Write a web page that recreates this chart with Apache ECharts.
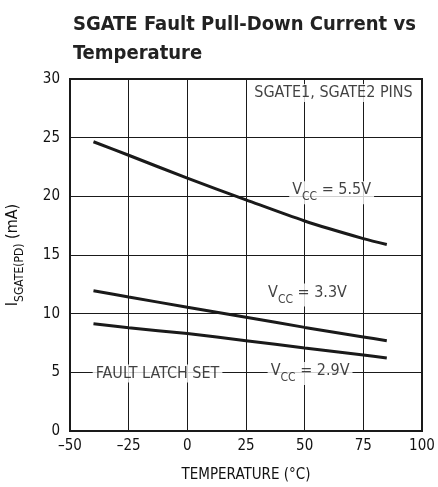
<!DOCTYPE html>
<html>
<head>
<meta charset="utf-8">
<script src="https://cdn.jsdelivr.net/npm/echarts@6/dist/echarts.min.js"></script>
<style>
  html, body { margin: 0; padding: 0; background: #fff; }
  #chart { width: 438px; height: 487px; }
</style>
</head>
<body>
<div id="chart"></div>
<script>
// temperatures (°C)
const temps = [-40, -25, 0, 25, 50, 75, 85];
// pull-down current (mA) for each supply
const vcc55 = [24.65, 23.5, 21.55, 19.7, 17.9, 16.4, 15.9];
const vcc33 = [11.95, 11.42, 10.55, 9.7, 8.83, 8.02, 7.7];
const vcc29 = [9.15, 8.8, 8.3, 7.7, 7.08, 6.48, 6.22];

const xTicks = [-50, -25, 0, 25, 50, 75, 100];
const yTicks = [0, 5, 10, 15, 20, 25, 30];

// annotation text and its anchor in data coordinates
const notes = [
  [62.3, 28.8, 'SGATE1, SGATE2 PINS'],
  [61.5, 20.3, '{v|V}{s|CC}{v| = 5.5V}'],
  [51.2, 11.6, '{v|V}{s|CC}{v| = 3.3V}'],
  [-12.7, 4.9, 'FAULT LATCH SET'],
  [52.3, 4.9, '{v|V}{s|CC}{v| = 2.9V}']
];

const font = '"DejaVu Sans Condensed", "Liberation Sans Narrow", "Liberation Sans", sans-serif';
const ink = '#111';

const chart = echarts.init(document.getElementById('chart'));

const curve = (name, vals) => ({
  name: name,
  type: 'line',
  data: temps.map((t, i) => [t, vals[i]]),
  smooth: 0.3,
  symbol: 'none',
  lineStyle: { color: '#1a1a1a', width: 3 },
  z: 3
});

const noteRich = {
  v: { fontSize: 16, fontFamily: font, color: ink, padding: [0, 0, 5, 0] },
  s: { fontSize: 12, fontFamily: font, color: ink, verticalAlign: 'bottom' }
};

chart.setOption({
  animation: false,
  backgroundColor: '#fff',
  title: {
    text: 'SGATE Fault Pull-Down Current vs\nTemperature',
    left: 68,
    top: 5,
    textStyle: {
      fontFamily: font,
      fontSize: 20,
      fontWeight: 'bold',
      lineHeight: 29,
      color: '#222'
    }
  },
  grid: {
    left: 70,
    right: 16,
    top: 79,
    bottom: 56,
    outerBoundsMode: 'none',
    containLabel: false,
    show: true,
    borderColor: '#1a1a1a',
    borderWidth: 2,
    backgroundColor: 'transparent'
  },
  xAxis: {
    type: 'value',
    min: xTicks[0],
    max: xTicks[xTicks.length - 1],
    interval: 25,
    name: 'TEMPERATURE (°C)',
    nameLocation: 'middle',
    nameGap: 37,
    nameTextStyle: { fontFamily: font, fontSize: 15, color: ink },
    axisLine: { show: false },
    axisTick: { show: false },
    axisLabel: {
      fontFamily: font,
      fontSize: 15,
      color: ink,
      margin: 8,
      formatter: v => (v < 0 ? '\u2013' + Math.abs(v) : String(v))
    },
    splitLine: { lineStyle: { color: '#1a1a1a', width: 1 } }
  },
  yAxis: {
    type: 'value',
    min: yTicks[0],
    max: yTicks[yTicks.length - 1],
    interval: 5,
    name: '{m|I}{s|SGATE(PD)}{m| (mA)}',
    nameLocation: 'middle',
    nameGap: 44,
    nameTextStyle: {
      rich: {
        m: { fontSize: 16, fontFamily: font, color: ink, padding: [0, 0, 5, 0] },
        s: { fontSize: 12, fontFamily: font, color: ink, verticalAlign: 'bottom' }
      }
    },
    axisLine: { show: false },
    axisTick: { show: false },
    axisLabel: { fontFamily: font, fontSize: 15, color: ink, margin: 10 },
    splitLine: { lineStyle: { color: '#1a1a1a', width: 1 } }
  },
  series: [
    curve('VCC = 5.5V', vcc55),
    curve('VCC = 3.3V', vcc33),
    curve('VCC = 2.9V', vcc29),
    {
      name: 'notes',
      type: 'scatter',
      data: notes,
      symbolSize: 0,
      z: 4,
      label: {
        show: true,
        position: 'inside',
        formatter: p => p.data[2],
        fontFamily: font,
        fontSize: 16,
        color: ink,
        backgroundColor: '#fff',
        padding: [1, 3],
        rich: noteRich
      }
    }
  ]
});
</script>
</body>
</html>
